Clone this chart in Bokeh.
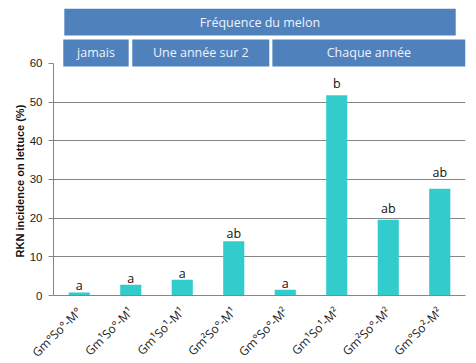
import math
from bokeh.plotting import figure
from bokeh.models import FixedTicker, ColumnDataSource, Range1d, Title
from bokeh.core.properties import value
from bokeh.embed import file_html
from bokeh.resources import INLINE

# ---- data ----
categories = ["Gm°So°-M°", "Gm¹So°-M¹", "Gm¹So¹-M¹", "Gm²So°-M¹",
              "Gm°So°-M²", "Gm¹So¹-M²", "Gm²So°-M²", "Gm°So²-M²"]
incidence = [0.8, 2.8, 4.1, 14.0, 1.5, 51.8, 19.6, 27.6]
letters = ["a", "a", "a", "ab", "a", "b", "ab", "ab"]
letter_y = [2.6, 4.4, 5.7, 16.0, 3.1, 54.8, 22.5, 31.8]
y_ticks = [0, 10, 20, 30, 40, 50, 60]
header_title = "Fréquence du melon"
group_labels = ["jamais", "Une année sur 2", "Chaque année"]
y_title = "RKN incidence on lettuce (%)"

# ---- layout constants (data-unit positions of header boxes) ----
group_left = [0.19, 1.53, 4.25]
group_right = [1.46, 4.19, 8.0]
header_left, header_right = 0.21, 7.81
row1 = (67.2, 74.2)
row2 = (59.2, 66.2)

n = len(categories)
xs = [i + 0.5 for i in range(n)]

p = figure(frame_width=412, frame_height=287, output_backend="svg", toolbar_location=None,
           x_range=Range1d(0, n), y_range=Range1d(0, 74.2),
           min_border_left=53, min_border_right=11, min_border_top=8,
           min_border_bottom=68)
p.outline_line_color = None
p.background_fill_color = "white"

src = ColumnDataSource(dict(x=xs, top=incidence, lab=letters, ly=letter_y))
p.vbar(x="x", top="top", width=0.41, bottom=0, source=src,
       fill_color="#33CCCC", line_color=None)
p.text(x="x", y="ly", text="lab", source=src, text_align="center",
       text_baseline="alphabetic", text_font=value("Open Sans"),
       text_font_size="12.5px", text_color="#111111")

# header boxes
p.quad(left=[header_left], right=[header_right], bottom=[row1[0]], top=[row1[1]],
       fill_color="#4F81BD", line_color=None)
p.text(x=[(header_left + header_right) / 2], y=[(row1[0] + row1[1]) / 2],
       text=[header_title], text_align="center", text_baseline="middle",
       text_font=value("Open Sans"), text_font_size="12.5px", text_color="#EEF3FA")
p.quad(left=group_left, right=group_right, bottom=[row2[0]] * 3, top=[row2[1]] * 3,
       fill_color="#4F81BD", line_color=None)
p.text(x=[(l + r) / 2 for l, r in zip(group_left, group_right)],
       y=[(row2[0] + row2[1]) / 2] * 3, text=group_labels,
       text_align="center", text_baseline="middle",
       text_font=value("Open Sans"), text_font_size="12.5px", text_color="#EEF3FA")

# axes
p.yaxis.ticker = FixedTicker(ticks=y_ticks)
p.yaxis.bounds = (0, 60)
p.yaxis.axis_line_color = "#868686"
p.yaxis.major_tick_line_color = "#868686"
p.yaxis.major_tick_out = 5
p.yaxis.major_tick_in = 0
p.yaxis.minor_tick_line_color = None
p.yaxis.major_label_text_font = "Liberation Sans"
p.yaxis.major_label_text_font_size = "11.5px"
p.yaxis.major_label_text_color = "#222222"
p.yaxis.major_label_standoff = 6

p.add_layout(Title(text=y_title, align="left", offset=38, standoff=2,
                   text_font="Liberation Sans", text_font_style="bold",
                   text_font_size="11px", text_color="#111111"), "left")

p.xaxis.ticker = FixedTicker(ticks=xs)
p.xaxis.major_label_overrides = {x: c for x, c in zip(xs, categories)}
p.xaxis.major_label_orientation = math.pi / 4
p.xaxis.axis_line_color = "#868686"
p.xaxis.major_tick_line_color = None
p.xaxis.minor_tick_line_color = None
p.xaxis.major_label_text_font = "Open Sans"
p.xaxis.major_label_text_font_size = "12px"
p.xaxis.major_label_text_color = "#222222"
p.xaxis.major_label_standoff = 8

p.xgrid.grid_line_color = None
p.ygrid.ticker = FixedTicker(ticks=[10, 20, 30, 40, 50])
p.ygrid.grid_line_color = "#868686"
p.ygrid.grid_line_width = 1

open("out.html", "w").write(file_html(p, INLINE))
